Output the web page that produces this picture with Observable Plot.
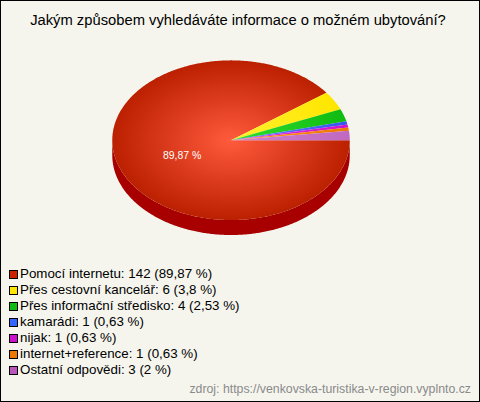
<!DOCTYPE html>
<html><head><meta charset="utf-8">
<script src="https://cdn.jsdelivr.net/npm/d3@7"></script>
<script src="https://cdn.jsdelivr.net/npm/@observablehq/plot@0.6"></script>
<style>
html,body{margin:0;padding:0;background:#F5F5EE}
#frame{position:relative;box-sizing:border-box;width:480px;height:402px;border:1px solid #000;background:#F5F5EE;font-family:"Liberation Sans",Arial,sans-serif;overflow:hidden}
#title{position:absolute;left:0;right:4px;top:10px;text-align:center;font-size:14.75px;line-height:18px;color:#000;white-space:nowrap}
#chart{position:absolute;left:-1px;top:-1px}
#chart svg{display:block;background:transparent}
#legend{position:absolute;left:8px;top:265px;font-size:13.35px;line-height:16px;color:#000}
#legend div{height:16px;white-space:nowrap;display:flex;align-items:center}
#legend i{display:inline-block;box-sizing:border-box;width:9px;height:9px;border:1px solid #000;margin-right:2px}
#source{position:absolute;right:8px;top:381px;font-size:12.3px;line-height:15px;color:#8a8a8a;white-space:nowrap}
</style></head><body>
<div id="frame">
<div id="title"></div>
<div id="chart"></div>
<div id="legend"></div>
<div id="source"></div>
</div>
<script>
const titleText = "Jakým způsobem vyhledáváte informace o možném ubytování?";
const sourceText = "zdroj: https://venkovska-turistika-v-region.vyplnto.cz";
const categories = ["Pomocí internetu","Přes cestovní kancelář","Přes informační středisko","kamarádi","nijak","internet+reference","Ostatní odpovědi"];
const counts = [142,6,4,1,1,1,3];
const shares = ["89,87","3,8","2,53","0,63","0,63","0,63","2"];
const swatches = ["#CC2200","#FFE600","#11BB11","#3366FF","#CC11CC","#EE7700","#BB55BB"];
const innerColors = ["#FF5A3C","#FFF030","#30E030","#6688FF","#EE33EE","#FF9922","#D080D0"];
const outerColors = ["#BB2000","#FFE600","#11BB11","#3355EE","#CC11CC","#EE7700","#C068C0"];
const sideColor = "#A80000";
const pieLabel = "89,87 %";

const W = 480, H = 402;
const cx = 231, cy = 140, rx = 119, ry = 80, depth = 15;

document.getElementById("title").textContent = titleText;
document.getElementById("source").textContent = sourceText;
const legend = document.getElementById("legend");
categories.forEach((c,i)=>{
  const row = document.createElement("div");
  const sw = document.createElement("i"); sw.style.background = swatches[i];
  row.append(sw, document.createTextNode(`${c}: ${counts[i]} (${shares[i]} %)`));
  legend.append(row);
});

const total = d3.sum(counts);
let run = 0;
const slicePts = [];
categories.forEach((c,i)=>{
  const a0 = run/total*2*Math.PI; run += counts[i];
  const a1 = run/total*2*Math.PI;
  const n = Math.max(2, Math.ceil((a1-a0)/0.01));
  slicePts.push({category:c, px:cx, py:cy});
  for(let k=0;k<=n;k++){
    const a = a0+(a1-a0)*k/n;
    slicePts.push({category:c, px:cx+rx*Math.cos(a), py:cy+ry*Math.sin(a)});
  }
});
const sidePts = [];
const nSide = 300;
for(let k=0;k<=nSide;k++){const a=Math.PI*k/nSide; sidePts.push({px:cx+rx*Math.cos(a), py:cy+ry*Math.sin(a)});}
for(let k=nSide;k>=0;k--){const a=Math.PI*k/nSide; sidePts.push({px:cx+rx*Math.cos(a), py:cy+depth+ry*Math.sin(a)});}

const grads = categories.map((c,i)=>`url(#slice${i})`);
const defs = () => {
  const ns = "http://www.w3.org/2000/svg";
  const d = document.createElementNS(ns,"defs");
  categories.forEach((c,i)=>{
    const g = document.createElementNS(ns,"radialGradient");
    g.setAttribute("id",`slice${i}`);
    g.setAttribute("gradientUnits","userSpaceOnUse");
    g.setAttribute("cx",0);g.setAttribute("cy",0);g.setAttribute("r",1);
    g.setAttribute("gradientTransform",`translate(${cx} ${cy}) scale(${rx} ${ry})`);
    [[0,innerColors[i]],[1,outerColors[i]]].forEach(([o,col])=>{
      const s = document.createElementNS(ns,"stop");
      s.setAttribute("offset",o);s.setAttribute("stop-color",col);g.append(s);
    });
    d.append(g);
  });
  return d;
};

const plot = Plot.plot({
  width:W, height:H, margin:0,
  style:{background:"transparent"},
  x:{domain:[0,W],range:[0,W],axis:null},
  y:{domain:[0,H],range:[0,H],axis:null},
  color:{type:"ordinal",domain:categories,range:grads},
  marks:[
    defs,
    Plot.line(sidePts,{x:"px",y:"py",fill:()=>sideColor,stroke:"none"}),
    Plot.line(slicePts,{x:"px",y:"py",z:"category",fill:"category",stroke:"none"}),
    Plot.text([pieLabel],{x:()=>182,y:()=>155,text:d=>d,fill:"#fff",fontSize:10.5,fontFamily:"Liberation Sans, Arial, sans-serif"})
  ]
});
document.getElementById("chart").append(plot);
</script>
</body></html>
